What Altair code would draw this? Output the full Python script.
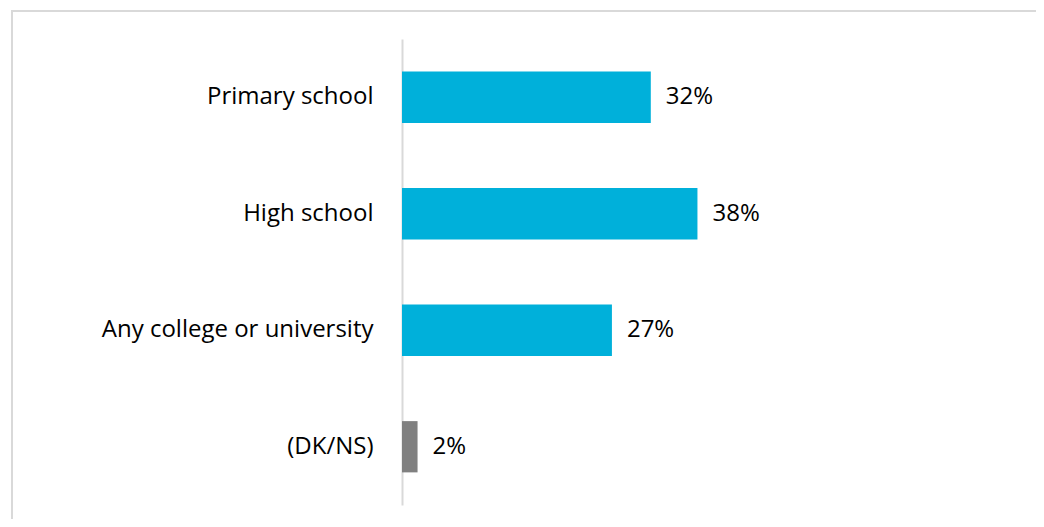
import altair as alt
import pandas as pd

categories = ["Primary school", "High school", "Any college or university", "(DK/NS)"]
values = [32, 38, 27, 2]
colors = ["#00B0DA", "#00B0DA", "#00B0DA", "#808080"]
labels = [f"{v}%" for v in values]

df = pd.DataFrame({"cat": categories, "val": values, "color": colors, "label": labels})

FONT = "Open Sans"
FS = 24

y_enc = alt.Y("cat:N", sort=categories, title=None,
              scale=alt.Scale(paddingInner=0.56, paddingOuter=0.28),
              axis=alt.Axis(ticks=False, domainColor="#D9D9D9", domainWidth=2,
                            labelFontSize=FS, labelFont=FONT, labelColor="#000000",
                            labelPadding=29, labelLimit=400))
x_enc = alt.X("val:Q", title=None, scale=alt.Scale(domain=[0, 80]), axis=None)

bars = alt.Chart(df).mark_bar().encode(
    y=y_enc, x=x_enc, color=alt.Color("color:N", scale=None)
)
text = alt.Chart(df).mark_text(align="left", dx=15, fontSize=FS, font=FONT, color="#000000").encode(
    y=alt.Y("cat:N", sort=categories), x="val:Q", text="label:N"
)

border_df = pd.DataFrame({"k": [0]})
left_line = alt.Chart(border_df).mark_rule(color="#D9D9D9", strokeWidth=2).encode(
    x=alt.value(-390), y=alt.value(-29), y2=alt.value(600)
)
top_line = alt.Chart(border_df).mark_rule(color="#D9D9D9", strokeWidth=2).encode(
    x=alt.value(-391), x2=alt.value(700), y=alt.value(-28)
)

chart = alt.layer(bars, text, left_line, top_line).properties(
    width=622, height=466,
    autosize=alt.AutoSizeParams(type="none"),
    padding={"left": 394, "top": 31, "right": 12, "bottom": 14},
).configure_view(stroke=None)

chart.save("out.html", embed_options={"renderer": "svg", "actions": False})
